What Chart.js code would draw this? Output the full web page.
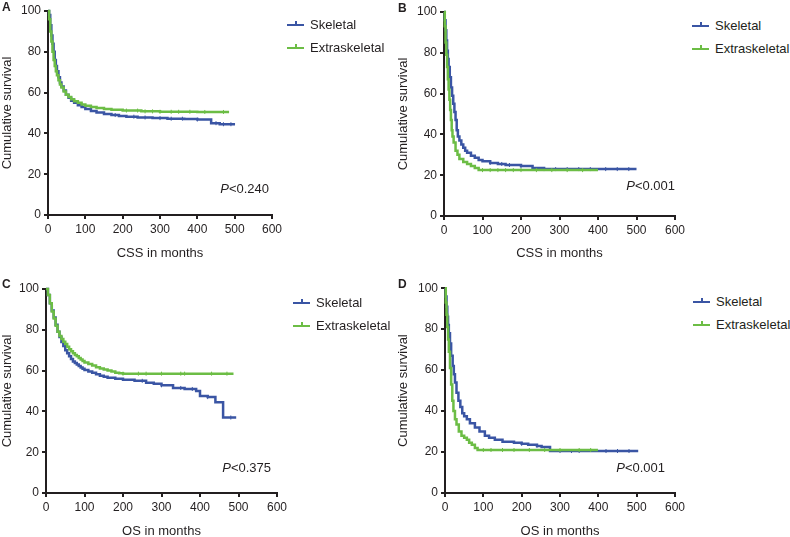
<!DOCTYPE html>
<html>
<head>
<meta charset="utf-8">
<script src="https://cdn.jsdelivr.net/npm/chart.js@4.4.0/dist/chart.umd.min.js"></script>
<style>
  body { margin: 0; background: #fff; width: 790px; height: 537px; position: relative; overflow: hidden;
         font-family: "Liberation Sans", Arial, sans-serif; color: #231f20; }
  canvas { position: absolute; }
  .letter { position: absolute; font-weight: bold; font-size: 12px; line-height: 12px; }
  .pval { position: absolute; font-size: 13px; line-height: 15px; transform: translate(-100%, -50%); white-space: nowrap; }
  .lg { position: absolute; font-size: 13px; white-space: nowrap; }
  .lg .row { height: 23px; display: flex; align-items: center; }
  .lg .sw { width: 17px; height: 2px; position: relative; margin-right: 6px; }
  .lg .sw::after { content: ""; position: absolute; left: 8px; top: -3px; width: 1.5px; height: 3px; background: inherit; }
</style>
</head>
<body>
<canvas id="cA" width="290" height="268" style="left:0px;top:0px"></canvas>
<canvas id="cB" width="295" height="268" style="left:396px;top:0px"></canvas>
<canvas id="cC" width="295" height="268" style="left:0px;top:278px"></canvas>
<canvas id="cD" width="295" height="268" style="left:396px;top:278px"></canvas>

<div class="letter" style="left:2px;top:1px">A</div>
<div class="letter" style="left:398px;top:2px">B</div>
<div class="letter" style="left:2px;top:278px">C</div>
<div class="letter" style="left:398px;top:278px">D</div>

<div id="lgA" class="lg" style="left:287px;top:13px"></div>
<div id="lgB" class="lg" style="left:692px;top:14px"></div>
<div id="lgC" class="lg" style="left:293px;top:291px"></div>
<div id="lgD" class="lg" style="left:693px;top:290px"></div>

<div class="pval" style="left:269px;top:188px"><i>P</i>&lt;0.240</div>
<div class="pval" style="left:675px;top:185px"><i>P</i>&lt;0.001</div>
<div class="pval" style="left:271px;top:467px"><i>P</i>&lt;0.375</div>
<div class="pval" style="left:665px;top:467px"><i>P</i>&lt;0.001</div>

<script>
// tick labels
const xTicks = [0, 100, 200, 300, 400, 500, 600];
const yTicks = [0, 20, 40, 60, 80, 100];
const seriesNames = ['Skeletal', 'Extraskeletal'];

// A: CSS
const aSkelT = [0, 3, 6, 9, 12, 15, 18, 21, 24, 28, 32, 36, 42, 48, 55, 62, 70, 80, 90, 100, 115, 130, 150, 170, 190, 210, 240, 280, 320, 365, 400, 437, 460, 501];
const aSkelS = [100, 98, 93, 88, 84, 80, 76, 73, 70.5, 67.5, 65, 63, 61, 59, 57.5, 56, 55, 53.8, 53, 52, 51, 50.3, 49.5, 49, 48.5, 48.2, 47.8, 47.5, 47.2, 47, 46.8, 45, 44.5, 44.5];
const aSkelCens = [180, 230, 260, 300, 330, 360, 400, 450, 470, 490];
const aExtT = [0, 3, 6, 9, 12, 15, 18, 21, 24, 28, 32, 36, 42, 48, 55, 62, 70, 80, 90, 100, 115, 130, 150, 170, 200, 250, 300, 400, 485];
const aExtS = [100, 96, 90, 85, 80, 76, 73, 70.5, 68.5, 66, 64, 62.5, 60.5, 59, 57.8, 56.8, 55.8, 55, 54.2, 53.5, 53, 52.5, 52, 51.6, 51.2, 50.8, 50.6, 50.5, 50.5];
const aExtCens = [210, 240, 260, 280, 300, 330, 350, 380, 420, 470];

// B: CSS
const bSkelT = [0, 2, 4, 6, 8, 10, 12, 15, 18, 21, 24, 27, 30, 33, 36, 40, 45, 50, 55, 60, 70, 80, 90, 100, 120, 140, 160, 200, 230, 260, 350, 420, 500];
const bSkelS = [100, 96, 91, 86, 81, 77, 73, 68, 63, 59, 55, 51, 47, 42, 39, 37, 35, 33.5, 32, 31, 29.5, 28.5, 27.5, 26.8, 26, 25.5, 25, 24.5, 23.5, 23, 23, 23, 23];
const bSkelCens = [120, 150, 170, 200, 230, 260, 290, 320, 350, 380, 420, 450, 480];
const bExtT = [0, 2, 4, 6, 8, 10, 12, 14, 16, 18, 20, 22, 25, 30, 35, 40, 50, 60, 70, 80, 90, 200, 300, 400];
const bExtS = [100, 93, 85, 79, 73, 67, 62, 57, 52, 47, 42, 39, 36, 32, 30, 28, 26.5, 25.5, 24.5, 23.5, 22.5, 22.5, 22.5, 22.5];
const bExtCens = [100, 120, 140, 160, 180, 200, 240, 280, 320, 360];

// C: OS
const cSkelT = [0, 5, 10, 15, 20, 25, 30, 35, 40, 45, 50, 55, 60, 65, 70, 75, 80, 85, 90, 95, 100, 110, 120, 130, 140, 150, 160, 180, 200, 230, 260, 280, 300, 330, 360, 390, 400, 420, 440, 460, 494];
const cSkelS = [100, 97, 93, 89.5, 86, 82.5, 79, 76.5, 74, 72, 70, 68.5, 67, 65.7, 64.5, 63.7, 63, 62.2, 61.5, 60.9, 60.3, 59.6, 59, 58.2, 57.5, 57, 56.5, 56, 55.5, 55, 54, 53.5, 52.8, 51.5, 51, 50, 47.5, 47, 44.5, 37, 37];
const cSkelCens = [250, 300, 350, 380, 420, 480];
const cExtT = [0, 5, 10, 15, 20, 25, 30, 35, 40, 45, 50, 55, 60, 65, 70, 75, 80, 85, 90, 95, 100, 110, 120, 130, 140, 150, 160, 170, 180, 190, 200, 300, 400, 487];
const cExtS = [100, 97, 93, 89, 85.5, 82, 79, 77, 75.5, 74.2, 73, 71.7, 70.5, 69.5, 68.5, 67.7, 67, 66.2, 65.5, 64.7, 64, 63.2, 62.5, 61.7, 61, 60.5, 60, 59.5, 59, 58.7, 58.5, 58.5, 58.5, 58.5];
const cExtCens = [200, 240, 260, 300, 350, 360, 430, 470];

// D: OS
const dSkelT = [0, 2, 4, 6, 8, 10, 13, 16, 20, 23, 26, 30, 35, 40, 45, 50, 57, 65, 78, 90, 104, 115, 130, 150, 180, 200, 217, 240, 252, 274, 350, 450, 504];
const dSkelS = [100, 96, 91, 86, 82, 78, 73, 67, 62, 58, 54, 49, 45, 42, 39, 37.5, 36, 34, 32, 30, 28, 27, 26, 25, 24.5, 24, 23.5, 23, 22.5, 20.5, 20.5, 20.5, 20.5];
const dSkelCens = [200, 240, 300, 330, 350, 420, 450, 480];
const dExtT = [0, 2, 4, 6, 8, 10, 13, 16, 19, 22, 26, 30, 36, 43, 50, 57, 63, 70, 78, 85, 100, 200, 300, 399];
const dExtS = [100, 93, 87, 81, 75, 69, 61, 53, 45, 40, 36, 33.5, 30, 28, 27, 26, 24.5, 23.5, 22, 21, 21, 21, 21, 21];
const dExtCens = [100, 120, 150, 180, 220, 260, 300, 350, 380];

const BLUE = '#3a55a4';
const GREEN = '#6cbd45';
const INK = '#231f20';

Chart.defaults.font.family = '"Liberation Sans", Arial, sans-serif';
Chart.defaults.font.size = 12;
Chart.defaults.color = INK;

function stepPoints(t, s) {
  return t.map((x, i) => ({ x: x, y: s[i] }));
}
function survAt(t, s, x) {
  let v = s[0];
  for (let i = 0; i < t.length; i++) if (t[i] <= x) v = s[i];
  return v;
}
function censorPoints(t, s, c) {
  return c.map(x => ({ x: x, y: survAt(t, s, x) }));
}

function legend(id) {
  const el = document.getElementById(id);
  [BLUE, GREEN].forEach((col, i) => {
    const row = document.createElement('div');
    row.className = 'row';
    row.innerHTML = '<span class="sw" style="background:' + col + '"></span><span>' + seriesNames[i] + '</span>';
    el.appendChild(row);
  });
}

// box: canvas position/size and plot area edges, page coordinates
function makePanel(id, box, xTitle, groups) {
  const ds = [];
  groups.forEach(g => {
    ds.push({
      label: g.name, data: stepPoints(g.t, g.s), stepped: true,
      borderColor: g.color, borderWidth: 2.5, pointRadius: 0, fill: false, order: g.order, clip: false
    });
    ds.push({
      label: g.name + ' censored', data: censorPoints(g.t, g.s, g.c), showLine: false,
      pointStyle: 'line', rotation: 90, pointRadius: 2, borderColor: g.color, borderWidth: 1,
      order: g.order, clip: false
    });
  });

  new Chart(document.getElementById(id), {
    type: 'line',
    data: { datasets: ds },
    options: {
      responsive: false,
      animation: false,
      events: [],
      layout: { padding: { left: 0, top: box.T - box.cy, right: box.cx + box.cw - box.R, bottom: 0 } },
      plugins: { legend: { display: false }, tooltip: { enabled: false } },
      scales: {
        x: {
          type: 'linear',
          min: xTicks[0], max: xTicks[xTicks.length - 1],
          ticks: { stepSize: xTicks[1] - xTicks[0], maxRotation: 0, autoSkip: false, padding: 3 },
          grid: { drawOnChartArea: false, color: INK, lineWidth: 2, tickLength: 4 },
          border: { color: INK, width: 2 },
          title: { display: true, text: xTitle, font: { size: 13 }, padding: { top: 0, bottom: 7 } },
          afterFit: s => { s.height = box.cy + box.ch - box.B; }
        },
        y: {
          min: yTicks[0], max: yTicks[yTicks.length - 1],
          ticks: { stepSize: yTicks[1] - yTicks[0], padding: 3 },
          grid: { drawOnChartArea: false, color: INK, lineWidth: 2, tickLength: 4 },
          border: { color: INK, width: 2 },
          title: { display: true, text: 'Cumulative survival', font: { size: 13 }, padding: { top: 0, bottom: 0 } },
          afterFit: s => { s.width = box.L - box.cx; }
        }
      }
    }
  });
}

makePanel('cA', { cx: 0, cy: 0, cw: 290, ch: 268, L: 48, R: 272, T: 11, B: 215 }, 'CSS in months', [
  { name: seriesNames[0], t: aSkelT, s: aSkelS, c: aSkelCens, color: BLUE, order: 1 },
  { name: seriesNames[1], t: aExtT, s: aExtS, c: aExtCens, color: GREEN, order: 0 }
]);
makePanel('cB', { cx: 396, cy: 0, cw: 295, ch: 268, L: 444, R: 675, T: 12, B: 216 }, 'CSS in months', [
  { name: seriesNames[0], t: bSkelT, s: bSkelS, c: bSkelCens, color: BLUE, order: 1 },
  { name: seriesNames[1], t: bExtT, s: bExtS, c: bExtCens, color: GREEN, order: 0 }
]);
makePanel('cC', { cx: 0, cy: 278, cw: 295, ch: 268, L: 46, R: 277, T: 289, B: 493 }, 'OS in months', [
  { name: seriesNames[0], t: cSkelT, s: cSkelS, c: cSkelCens, color: BLUE, order: 1 },
  { name: seriesNames[1], t: cExtT, s: cExtS, c: cExtCens, color: GREEN, order: 0 }
]);
makePanel('cD', { cx: 396, cy: 278, cw: 295, ch: 268, L: 445, R: 675, T: 287, B: 493 }, 'OS in months', [
  { name: seriesNames[0], t: dSkelT, s: dSkelS, c: dSkelCens, color: BLUE, order: 1 },
  { name: seriesNames[1], t: dExtT, s: dExtS, c: dExtCens, color: GREEN, order: 0 }
]);

legend('lgA');
legend('lgB');
legend('lgC');
legend('lgD');
</script>
</body>
</html>
